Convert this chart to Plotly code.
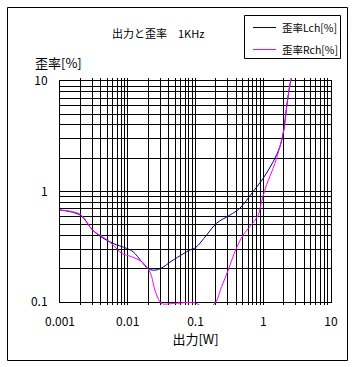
import plotly.graph_objects as go

# data
x_lch = [0.001, 0.002, 0.003, 0.004, 0.006, 0.0096, 0.012, 0.016, 0.02, 0.024, 0.03, 0.047, 0.083,
         0.1, 0.146, 0.205, 0.32, 0.45, 0.71, 1.0, 1.4, 1.76, 1.97, 2.2, 2.47, 2.6]
y_lch = [0.68, 0.61, 0.45, 0.39, 0.34, 0.306, 0.285, 0.232, 0.2, 0.194, 0.2, 0.24, 0.296,
         0.31, 0.404, 0.517, 0.61, 0.705, 1.0, 1.32, 1.86, 2.54, 3.37, 5.66, 9.2, 10.6]

x_rch = [0.001, 0.002, 0.003, 0.0046, 0.0061, 0.0081, 0.0114, 0.016, 0.02, 0.0225, 0.0252, 0.03,
         0.033, 0.047, 0.083, 0.1, 0.14, 0.193, 0.243, 0.305, 0.381, 0.506, 0.634, 0.841, 0.944,
         1.12, 1.4, 1.76, 2.08, 2.2, 2.47, 2.6]
y_rch = [0.68, 0.62, 0.45, 0.377, 0.328, 0.276, 0.257, 0.232, 0.2, 0.17, 0.128, 0.1,
         0.096, 0.097, 0.099, 0.098, 0.088, 0.097, 0.138, 0.195, 0.285, 0.404, 0.48, 0.61, 0.81,
         1.15, 1.62, 2.54, 4.0, 5.66, 9.2, 10.6]

x_tick_vals = [0.001, 0.01, 0.1, 1, 10]
x_tick_text = ["0.001", "0.01", "0.1", "1", "10"]
y_tick_vals = [0.1, 1, 10]
y_tick_text = ["0.1", "1", "10"]

title_text = "出力と歪率　1KHz"
x_title = "出力[W]"
y_title = "歪率[%]"
name_l = "歪率Lch[%]"
name_r = "歪率Rch[%]"
color_l = "#000080"
color_r = "#FF00FF"

FONT = "Noto Sans CJK JP"


def grid_vals(lo_exp, hi_exp, labels_at, labels):
    vals, texts = [], []
    for e in range(lo_exp, hi_exp):
        for d in range(1, 10):
            vals.append(d * 10.0 ** e)
            texts.append("")
    vals.append(10.0 ** hi_exp)
    texts.append("")
    for lv, lt in zip(labels_at, labels):
        best = min(range(len(vals)), key=lambda i: abs(vals[i] - lv) / lv)
        texts[best] = lt
    return vals, texts


xv, xt = grid_vals(-3, 1, x_tick_vals, x_tick_text)
yv, yt = grid_vals(-1, 1, y_tick_vals, y_tick_text)

W, H = 356, 367
# main plot area: x 60..331, y 81..302 ; overflow area for the curves: 3px extra top/bottom
PX_L, PX_R, PX_T, PX_B = 60, 331, 81, 302
EXT = 3
L, R = PX_L, W - PX_R
T, B = PX_T - EXT, H - PX_B - EXT
pw = PX_R - PX_L
ph_full = (PX_B + EXT) - (PX_T - EXT)
dec_px = (PX_B - PX_T) / 2.0


def px_x(p):
    return (p - PX_L) / pw


def px_y(p):
    return ((PX_B + EXT) - p) / ph_full


fig = go.Figure()
# empty trace so the main (grid) subplot exists
fig.add_trace(go.Scatter(x=[], y=[], mode="lines", showlegend=False, hoverinfo="skip",
                         xaxis="x", yaxis="y"))
fig.add_trace(go.Scatter(x=x_lch, y=y_lch, mode="lines", name=name_l, yaxis="y2",
                         showlegend=False,
                         line=dict(color=color_l, width=1, shape="spline", smoothing=1.0)))
fig.add_trace(go.Scatter(x=x_rch, y=y_rch, mode="lines", name=name_r, yaxis="y2",
                         showlegend=False,
                         line=dict(color=color_r, width=1, shape="spline", smoothing=1.0)))

# legend box (drawn by hand to match the reference geometry)
leg_shapes = [
    dict(type="rect", xref="paper", yref="paper", x0=px_x(244.5), x1=px_x(340.5),
         y0=px_y(58.5), y1=px_y(15.5), line=dict(color="black", width=1),
         fillcolor="white", layer="above"),
]
leg_ann = []
for i, (nm, col) in enumerate([(name_l, color_l), (name_r, color_r)]):
    yy = 27.5 + 22 * i
    leg_shapes.append(dict(type="line", xref="paper", yref="paper", x0=px_x(253), x1=px_x(276),
                           y0=px_y(yy), y1=px_y(yy), line=dict(color=col, width=1),
                           layer="above"))
    leg_ann.append(dict(text=nm, xref="paper", yref="paper", x=px_x(280), y=px_y(yy),
                        xanchor="left", yanchor="middle", showarrow=False,
                        font=dict(size=10.5)))

fig.update_layout(
    width=W, height=H,
    margin=dict(l=L, r=R, t=T, b=B, autoexpand=False),
    paper_bgcolor="white", plot_bgcolor="rgba(0,0,0,0)",
    font=dict(family=FONT, size=12, color="black"),
    showlegend=False,
    xaxis=dict(type="log", range=[-3, 1], tickmode="array", tickvals=xv, ticktext=xt,
               showgrid=True, gridcolor="black", gridwidth=1, showline=True,
               linecolor="black", linewidth=1, mirror=True, ticks="", ticklabelstandoff=9,
               zeroline=False, tickfont=dict(size=12), anchor="y", automargin=False,
               title=dict(text=x_title, font=dict(size=13), standoff=2)),
    yaxis=dict(type="log", range=[-1, 1], tickmode="array", tickvals=yv, ticktext=yt,
               domain=[EXT / ph_full, 1 - EXT / ph_full], anchor="x",
               showgrid=True, gridcolor="black", gridwidth=1, showline=True,
               linecolor="black", linewidth=1, mirror=True, ticks="", ticklabelstandoff=9,
               zeroline=False, tickfont=dict(size=12), automargin=False),
    yaxis2=dict(type="log", range=[-1 - EXT / dec_px, 1 + EXT / dec_px], domain=[0, 1],
                anchor="x", visible=False, showgrid=False, zeroline=False),
    annotations=[
        dict(text=title_text, xref="paper", yref="paper", x=px_x(158), y=px_y(33),
             xanchor="center", yanchor="middle", showarrow=False, font=dict(size=11)),
        dict(text=y_title, xref="paper", yref="paper", x=px_x(33), y=px_y(63),
             xanchor="left", yanchor="middle", showarrow=False, font=dict(size=13)),
    ] + leg_ann,
    shapes=[
        dict(type="rect", xref="paper", yref="paper", x0=px_x(7.5), x1=px_x(347.5),
             y0=px_y(360.5), y1=px_y(7.5), line=dict(color="black", width=1), layer="below"),
    ] + leg_shapes,
)

fig.write_html("out.html", config={"displayModeBar": False, "staticPlot": True},
               post_script="document.body.style.margin='0px';document.body.style.overflow='hidden';")
